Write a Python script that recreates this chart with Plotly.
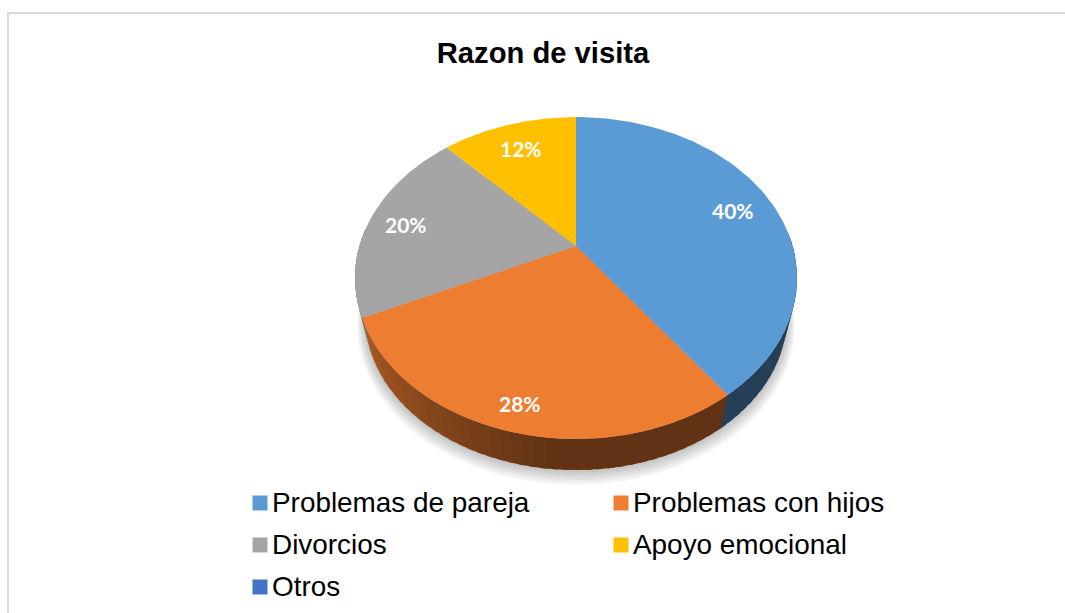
import numpy as np
import plotly.graph_objects as go

# Datos
categorias = ['Problemas de pareja', 'Problemas con hijos', 'Divorcios', 'Apoyo emocional', 'Otros']
valores = [40, 28, 20, 12, 0]
colores = ['#5B9BD5', '#ED7D31', '#A5A5A5', '#FFC000', '#4472C4']
titulo = 'Razon de visita'

# Posiciones en pixeles (eje y invertido)
cx, cy = 576, 246
ax, by, k = 216.6, 154.6, 0.199
esc_base, caida_base = 0.954, 40
pos_etiquetas = [(733, 210.5), (520, 403.5), (406, 224.5), (521, 148.5)]
pos_leyenda = [(260, 503), (621, 503), (260, 545), (621, 545), (260, 587)]


def tapa(theta):
    # disco superior en perspectiva, theta en grados desde las 12 en sentido horario
    t = np.radians(theta)
    den = 1 + k * np.cos(t)
    return cx + ax * np.sin(t) / den, cy - by * np.cos(t) / den


def base(theta, esc=esc_base, caida=caida_base):
    t = np.radians(theta)
    den = 1 + k * np.cos(t)
    return cx + esc * ax * np.sin(t) / den, cy + caida - esc * by * np.cos(t) / den


def poligono(x, y, color):
    return go.Scatter(x=x, y=y, mode='lines', fill='toself', fillcolor=color,
                      line=dict(width=0), hoverinfo='skip', showlegend=False)


def tono_lateral(color, theta):
    # el lateral se aclara hacia la izquierda
    f = 0.41 + 0.31 * np.clip((theta - 185) / 60, 0, 1)
    rgb = [int(color[i:i + 2], 16) for i in (1, 3, 5)]
    return 'rgb(%d,%d,%d)' % tuple(c * f for c in rgb)


fig = go.Figure()

# Sombra
todo = np.linspace(0, 360, 241)
for i in range(7):
    sx, sy = base(todo, esc_base + 0.006 * i, caida_base + 1.3 * i)
    fig.add_trace(poligono(sx, sy, 'rgba(0,0,0,0.04)'))

# Laterales: cada tira pisa un poco a la anterior para que no se vean costuras
limites = np.cumsum([0] + valores) * 3.6
for ini, fin, color in zip(limites[:-1], limites[1:], colores):
    ini, fin = max(ini, 85), min(fin, 275)
    if fin <= ini:
        continue
    cortes = np.arange(ini, fin + 2.5, 2.5)
    cortes[-1] = fin
    for a, b in zip(cortes[:-1], cortes[1:]):
        arco = np.linspace(a, b + 1.5, 4)
        tx, ty = tapa(arco)
        bx, by_ = base(arco)
        fig.add_trace(poligono(list(tx) + list(bx[::-1]), list(ty) + list(by_[::-1]),
                               tono_lateral(color, (a + b) / 2)))

# Caras superiores
for ini, fin, color in zip(limites[:-1], limites[1:], colores):
    if fin <= ini:
        continue
    arco = np.linspace(ini, fin, 120)
    tx, ty = tapa(arco)
    fig.add_trace(poligono([cx] + list(tx), [cy] + list(ty), color))

# Etiquetas de porcentaje
for v, (x, y) in zip(valores, pos_etiquetas):
    fig.add_annotation(x=x, y=y, text='%d%%' % v, showarrow=False,
                       font=dict(family='Lato', size=21, color='white', weight='bold'))

# Leyenda
for nombre, color, (x, y) in zip(categorias, colores, pos_leyenda):
    fig.add_trace(go.Scatter(x=[x], y=[y], mode='markers', name=nombre, showlegend=False,
                             marker=dict(symbol='square', size=15, color=color)))
    fig.add_annotation(x=x + 10, y=y - 1, text=nombre, showarrow=False, xanchor='left',
                       font=dict(family='Liberation Sans', size=27.9, color='black'))

fig.update_layout(
    title=dict(text=titulo, x=543 / 1065, y=1 - 53 / 613, xanchor='center', yanchor='middle',
               font=dict(family='Liberation Sans', size=29.2, color='black', weight='bold')),
    width=1065, height=613,
    margin=dict(l=0, r=0, t=0, b=0),
    paper_bgcolor='white', plot_bgcolor='white',
    xaxis=dict(range=[0, 1065], visible=False, fixedrange=True),
    yaxis=dict(range=[613, 0], visible=False, fixedrange=True),
    shapes=[
        dict(type='line', x0=7, x1=1065, y0=13, y1=13, line=dict(color='#D9D9D9', width=2)),
        dict(type='line', x0=8, x1=8, y0=12, y1=613, line=dict(color='#D9D9D9', width=2)),
    ],
)

fig.write_html("out.html", config=dict(displayModeBar=False),
               post_script="document.body.style.margin='0';")
